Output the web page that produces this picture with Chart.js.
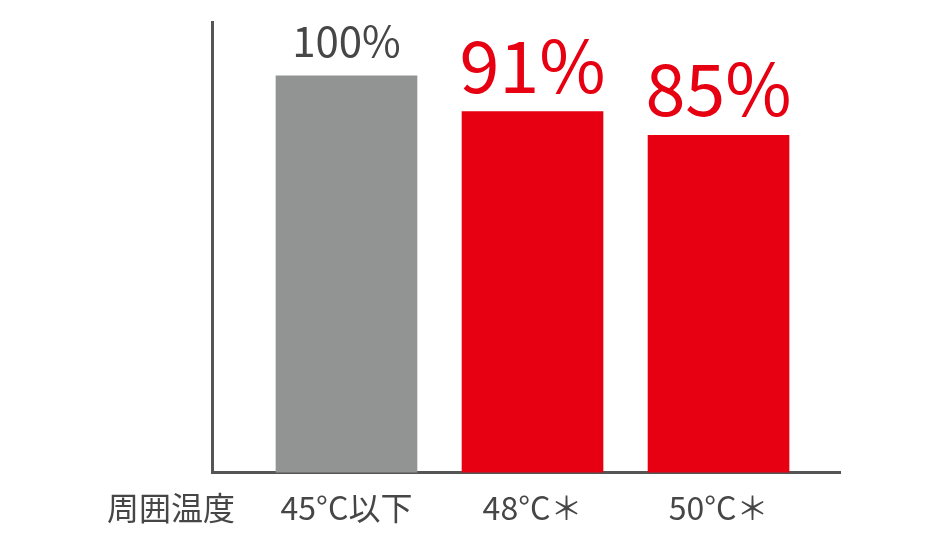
<!DOCTYPE html>
<html>
<head>
<meta charset="utf-8">
<script src="https://cdn.jsdelivr.net/npm/chart.js@4.4.1/dist/chart.umd.min.js"></script>
<style>
  html, body { margin: 0; padding: 0; background: #fff; }
  #wrap { width: 938px; height: 537px; }
</style>
</head>
<body>
<div id="wrap"><canvas id="chart" width="938" height="537"></canvas></div>
<script>
// data
const categories = ['45°C以下', '48°C＊', '50°C＊']
const values = [100, 91, 85]
const valueLabels = ['100%', '91%', '85%']
const axisTitle = '周囲温度'
const yMax = 113.6

const FONT = '"Noto Sans CJK JP", "Noto Sans", sans-serif'
const barColors = ['#929393', '#e60012', '#e60012']
const labelColors = ['#464646', '#e60012', '#e60012']
const labelSizes = [42, 72, 72]
const TICK_PAD = 24
const TICK_SIZE = 32
const TICK_LH = 0.7

const points = values.map((v, i) => ({ x: i + 1, y: v }))

const valueLabelPlugin = {
    id: 'valueLabels',
    afterDatasetsDraw(chart) {
        const ctx = chart.ctx
        const meta = chart.getDatasetMeta(0)
        ctx.save()
        ctx.textAlign = 'center'
        ctx.textBaseline = 'alphabetic'
        meta.data.forEach((bar, i) => {
            ctx.font = labelSizes[i] + 'px ' + FONT
            ctx.fillStyle = labelColors[i]
            ctx.fillText(valueLabels[i], bar.x, bar.y - 19)
        })
        // row title on the left of the category labels
        const xs = chart.scales.x
        ctx.font = TICK_SIZE + 'px ' + FONT
        ctx.fillStyle = '#464646'
        ctx.textBaseline = 'middle'
        ctx.fillText(axisTitle, 171, xs.top + TICK_PAD + TICK_SIZE * TICK_LH / 2)
        ctx.restore()
    }
}

new Chart(document.getElementById('chart'), {
    type: 'bar',
    data: {
        datasets: [{
            data: points,
            backgroundColor: barColors,
            barThickness: 141,
            borderWidth: 0
        }]
    },
    options: {
        responsive: false,
        animation: false,
        layout: { padding: { left: 212, right: 98, top: 22, bottom: -6 } },
        plugins: { legend: { display: false }, tooltip: { enabled: false } },
        scales: {
            x: {
                type: 'linear',
                offset: false,
                min: 0.277,
                max: 3.653,
                afterBuildTicks: s => { s.ticks = categories.map((c, i) => ({ value: i + 1 })) },
                ticks: {
                    callback: v => categories[v - 1],
                    font: { size: TICK_SIZE, family: FONT, lineHeight: TICK_LH },
                    color: '#464646',
                    padding: TICK_PAD,
                    maxRotation: 0,
                    autoSkip: false
                },
                grid: { display: false, drawTicks: false, offset: false },
                border: { color: '#555', width: 3 }
            },
            y: {
                min: 0,
                max: yMax,
                ticks: { display: false },
                grid: { display: false, drawTicks: false },
                border: { color: '#555', width: 3 }
            }
        }
    },
    plugins: [valueLabelPlugin]
})
</script>
</body>
</html>
